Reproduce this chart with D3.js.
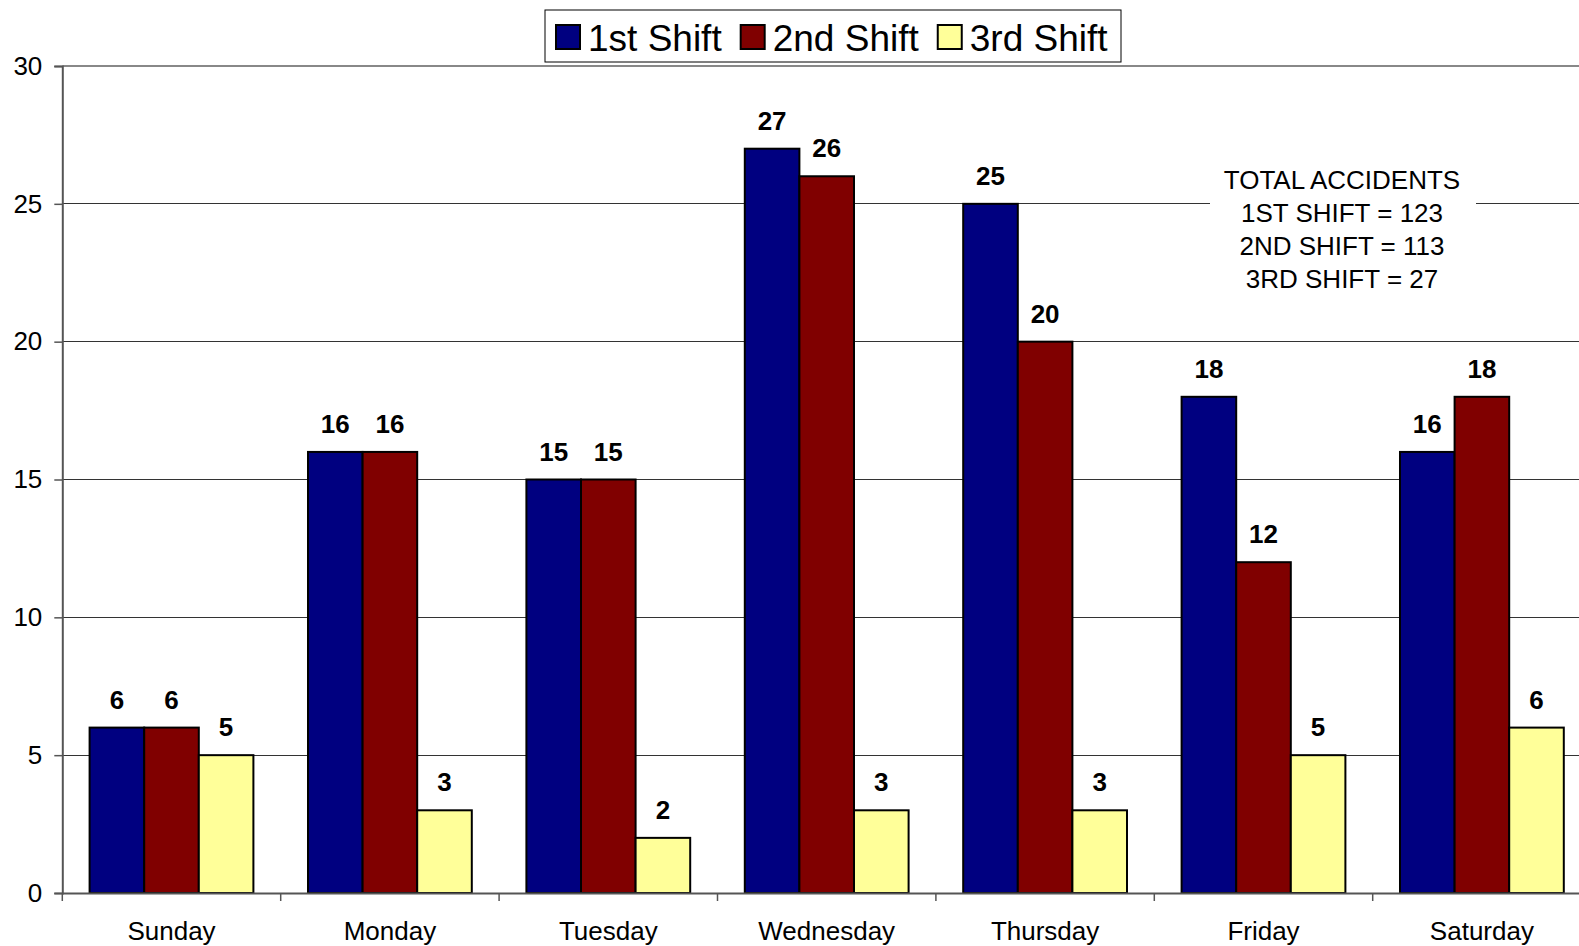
<!DOCTYPE html>
<html lang="en">
<head>
  <meta charset="UTF-8">
  <title>Accidents by Shift</title>
  <script src="https://d3js.org/d3.v7.min.js"></script>
  <style>
    body { margin: 0; background: #fff; }
    svg { display: block; font-family: "Liberation Sans", Arial, sans-serif; }
    .axis text { font-size: 26px; fill: #000; }
    .label { font-size: 26px; font-weight: bold; fill: #000; text-anchor: middle; }
  </style>
</head>
<body>
  <svg width="1579" height="946"></svg>
  <script>
    const days = ["Sunday", "Monday", "Tuesday", "Wednesday", "Thursday", "Friday", "Saturday"];
    const seriesNames = ["1st Shift", "2nd Shift", "3rd Shift"];
    const seriesColors = ["#000080", "#800000", "#ffff99"];
    const shift1 = [6, 16, 15, 27, 25, 18, 16];
    const shift2 = [6, 16, 15, 26, 20, 12, 18];
    const shift3 = [5, 3, 2, 3, 3, 5, 6];
    const yTicks = [0, 5, 10, 15, 20, 25, 30];
    const noteLines = ["TOTAL ACCIDENTS", "1ST SHIFT = 123", "2ND SHIFT = 113", "3RD SHIFT = 27"];

    const series = [shift1, shift2, shift3];
    const svg = d3.select("svg");

    const plotLeft = 62.3, plotTop = 66, plotBottom = 893, band = 218.4;
    const plotRight = plotLeft + days.length * band;

    const x = d3.scaleBand().domain(days).range([plotLeft, plotRight]).padding(0);
    const x1 = d3.scaleBand().domain(seriesNames).range([27.3, band - 27.3]).padding(0);
    const y = d3.scaleLinear().domain([0, 30]).range([plotBottom, plotTop]);

    // gridlines
    svg.append("g")
      .selectAll("line")
      .data(yTicks.filter(t => t > 0 && t < 30))
      .join("line")
      .attr("x1", plotLeft).attr("x2", plotRight)
      .attr("y1", d => y(d)).attr("y2", d => y(d))
      .attr("stroke", "#333").attr("stroke-width", 1)
      .attr("shape-rendering", "crispEdges");

    // top border of plot area
    svg.append("line")
      .attr("x1", plotLeft).attr("x2", plotRight)
      .attr("y1", y(30)).attr("y2", y(30))
      .attr("stroke", "#888").attr("stroke-width", 2);

    // total note, white box breaks the gridline
    const noteX = 1342;
    svg.append("rect")
      .attr("x", 1210).attr("y", 160)
      .attr("width", 266).attr("height", 136)
      .attr("fill", "#fff");
    svg.append("g")
      .selectAll("text")
      .data(noteLines)
      .join("text")
      .attr("x", noteX)
      .attr("y", (d, i) => 188.5 + i * 33.2)
      .attr("text-anchor", "middle")
      .attr("font-size", 26)
      .text(d => d);

    // bars
    const groups = svg.append("g")
      .selectAll("g")
      .data(days)
      .join("g")
      .attr("transform", d => `translate(${x(d)},0)`);

    groups.selectAll("rect")
      .data((d, i) => series.map((s, k) => ({ name: seriesNames[k], value: s[i], color: seriesColors[k] })))
      .join("rect")
      .attr("x", d => x1(d.name))
      .attr("y", d => y(d.value))
      .attr("width", x1.bandwidth())
      .attr("height", d => y(0) - y(d.value))
      .attr("fill", d => d.color)
      .attr("stroke", "#000")
      .attr("stroke-width", 2);

    groups.selectAll("text")
      .data((d, i) => series.map((s, k) => ({ name: seriesNames[k], value: s[i] })))
      .join("text")
      .attr("class", "label")
      .attr("x", d => x1(d.name) + x1.bandwidth() / 2)
      .attr("y", d => y(d.value) - 19)
      .text(d => d.value);

    // y axis
    const yAxis = svg.append("g")
      .attr("class", "axis")
      .attr("transform", `translate(${plotLeft},0)`)
      .call(d3.axisLeft(y).tickValues(yTicks).tickSize(8).tickPadding(12));
    yAxis.select(".domain").attr("stroke", "#555").attr("stroke-width", 2);
    yAxis.selectAll(".tick line").attr("stroke", "#555").attr("stroke-width", 1.5);

    // x axis: labels at centres, ticks at category boundaries
    const xAxis = svg.append("g")
      .attr("class", "axis")
      .attr("transform", `translate(0,${plotBottom})`)
      .call(d3.axisBottom(x).tickSize(0).tickPadding(29).tickSizeOuter(0));
    xAxis.select(".domain").attr("stroke", "#555").attr("stroke-width", 2);
    xAxis.append("g")
      .selectAll("line")
      .data(days)
      .join("line")
      .attr("x1", d => x(d)).attr("x2", d => x(d))
      .attr("y1", 0).attr("y2", 8)
      .attr("stroke", "#555").attr("stroke-width", 1.5);

    // legend
    const legend = svg.append("g");
    legend.append("rect")
      .attr("x", 545).attr("y", 10)
      .attr("width", 576).attr("height", 52)
      .attr("fill", "#fff").attr("stroke", "#000").attr("stroke-width", 1);
    let lx = 556;
    seriesNames.forEach((name, k) => {
      legend.append("rect")
        .attr("x", lx).attr("y", 25)
        .attr("width", 24).attr("height", 24)
        .attr("fill", seriesColors[k])
        .attr("stroke", "#000").attr("stroke-width", 2);
      const t = legend.append("text")
        .attr("x", lx + 32).attr("y", 50.5)
        .attr("font-size", 37)
        .text(name);
      lx += 32 + t.node().getComputedTextLength() + 19;
    });
  </script>
</body>
</html>
